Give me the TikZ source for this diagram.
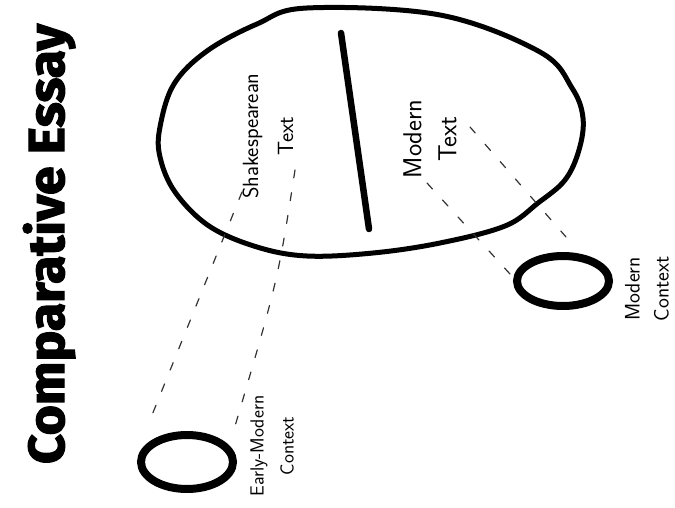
\documentclass[tikz,border=0pt]{standalone}
\usepackage{fontspec}
\usetikzlibrary{shapes.geometric}
\newfontfamily\titlefont{Fira Sans}[BoldFeatures={FakeBold=2.5}]
\begin{document}
\begin{tikzpicture}[x=1pt,y=-1pt,
  hand/.style 2 args={font=\sffamily\fontsize{#1}{#2}\selectfont, rotate=90, align=center, inner sep=0pt},
  thickcirc/.style={draw=black, line width=8pt, ellipse, inner sep=0pt},
  dashlink/.style={draw=black!80, line width=1.2pt, dash pattern=on 8pt off 15pt, line cap=round}]
\useasboundingbox (0,0) rectangle (675,508);
\fill[white] (0,0) rectangle (675,508);

% title
\node[rotate=90, inner sep=0pt, anchor=base] (title) at (64,244)
  {\resizebox{440pt}{41pt}{\titlefont\bfseries Comparative Essay}};

% big oval
\draw[line width=5pt, line join=round] plot[smooth cycle, tension=0.6] coordinates {
  (307,8) (440,15) (540,52) (572,88) (583,118) (579,150) (565,180) (538,203)
  (505,226) (440,243) (373,253) (307,256) (257,247) (209,226) (175,192)
  (160,157) (160,127) (174,84) (207,51) (257,24)};

% divider
\draw[line width=6.5pt, line cap=round] (341,33) -- (369,229);

% labels in big oval
\node[hand={22}{35}] (shak) at (268,136) {Shakespearean\\Text};
\node[hand={26}{35}] (mod) at (430,139) {Modern\\Text};

% small circles
\node[thickcirc, minimum width=92pt, minimum height=54pt] (emc) at (187,462) {};
\node[thickcirc, minimum width=92pt, minimum height=50pt] (mc) at (563,281) {};

% context labels
\node[hand={19}{30}] (emtext) at (272,446) {Early-Modern\\Context};
\node[hand={21}{29}] (mctext) at (647,289) {Modern\\Context};

% dashed connectors
\coordinate (s1) at (242,192); \coordinate (e1) at (148,425);
\coordinate (s2) at (295,170); \coordinate (e2) at (233,433);
\coordinate (m1) at (427,183); \coordinate (f1) at (510,274);
\coordinate (m2) at (470,127); \coordinate (f2) at (573,245);
\draw[dashlink] (s1) -- (e1);
\draw[dashlink] (s2) .. controls (278,280) .. (e2);
\draw[dashlink] (m1) -- (f1);
\draw[dashlink] (m2) -- (f2);
\end{tikzpicture}
\end{document}
